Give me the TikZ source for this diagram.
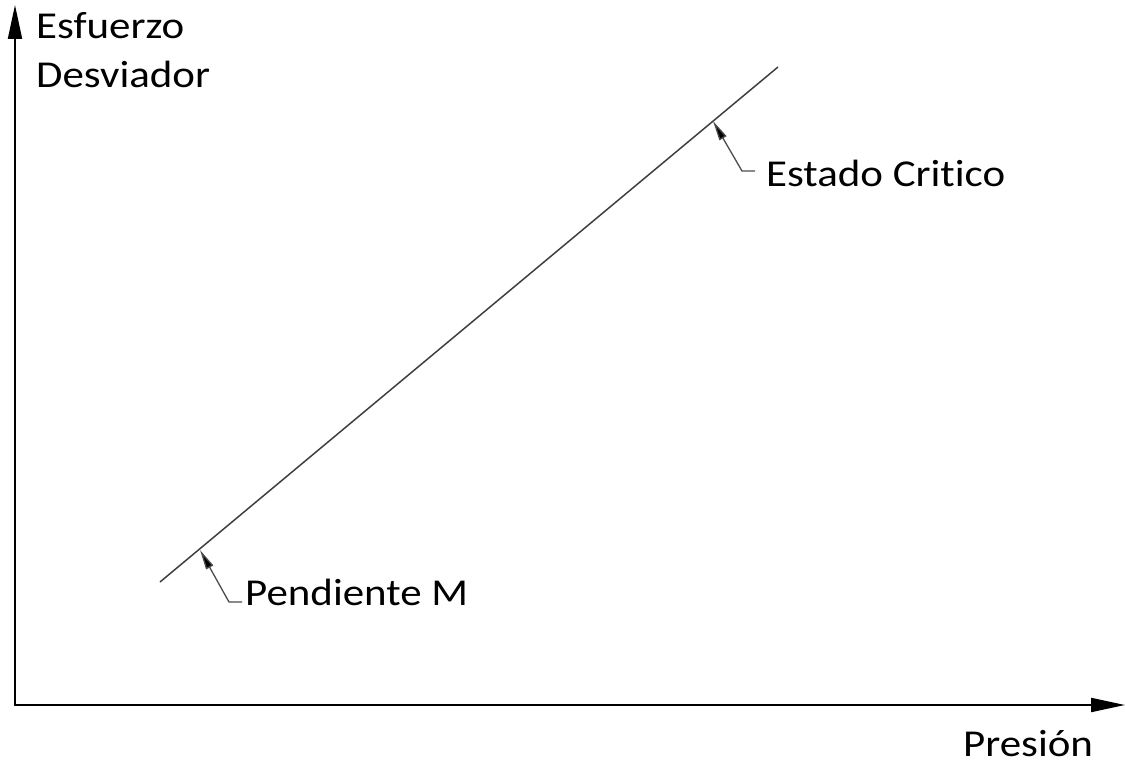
\documentclass[tikz,border=0pt]{standalone}
\usepackage{fontspec}
\setmainfont{Carlito}[FakeStretch=1.13, Ligatures=NoCommon]
\usepackage{tikz}
\usetikzlibrary{arrows.meta, positioning}
\tikzstyle{lbl} = [inner sep=0pt, font=\fontsize{38}{49}\selectfont, text=black]
\tikzstyle{axis} = [line width=2pt, draw=black, {Triangle[length=34pt,width=14pt]}-{Triangle[length=34pt,width=14pt]}]
\tikzstyle{leader} = [line width=1.3pt, draw=black!70, -{Triangle[length=20pt,width=8pt,fill=black]}]
\tikzstyle{csl} = [line width=1.5pt, draw=black!75]

\begin{document}
\begin{tikzpicture}[x=1pt, y=-1pt]
\useasboundingbox (0,0) rectangle (1125,765);

\coordinate (origin) at (15,705);
\coordinate (ytip) at (15,5);
\coordinate (xtip) at (1125,705);
\draw [axis] (ytip) -- (origin) -- (xtip);

\node (ylabel) [lbl, anchor=base west, align=left] at (36,88) {Esfuerzo\\Desviador};
\node (xlabel) [lbl, anchor=base west] at (963,756) {Presión};

\coordinate (lstart) at (160,582);
\coordinate (lend) at (778,67);
\draw [csl] (lstart) -- (lend);

\coordinate (ctip) at (713,121);
\coordinate (ptip) at (200,550);

\node (critico) [lbl, anchor=base west] at (766,186) {Estado Critico};
\draw [leader] ([xshift=-11pt, yshift=15pt]critico.base west) -- ++(-13,0) -- (ctip);

\node (pendiente) [lbl, anchor=base west] at (245,605) {Pendiente M};
\draw [leader] ([xshift=-3pt, yshift=3pt]pendiente.base west) -- ++(-13,0) -- (ptip);

\end{tikzpicture}
\end{document}
